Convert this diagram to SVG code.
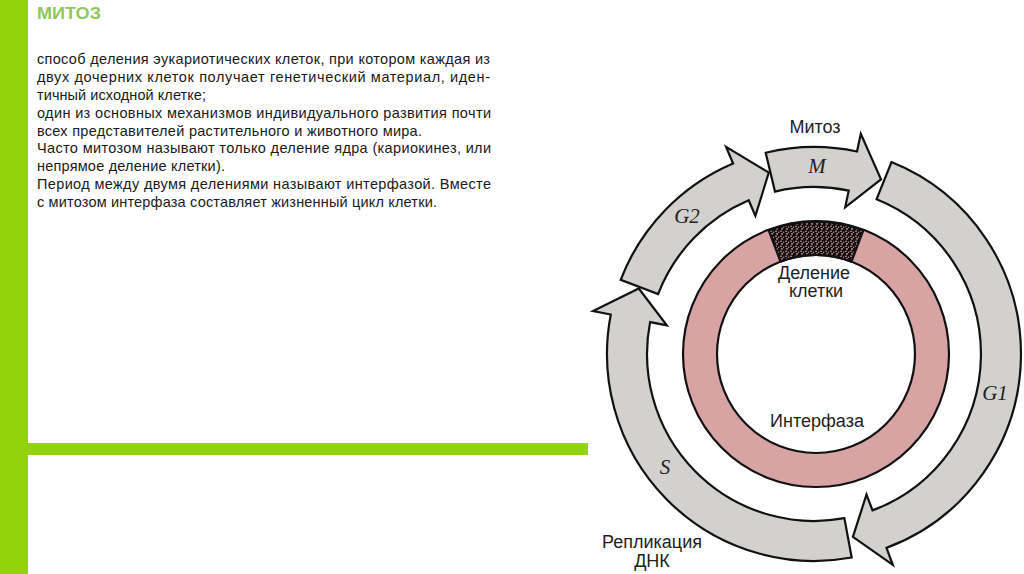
<svg xmlns="http://www.w3.org/2000/svg" width="1024" height="574" viewBox="0 0 1024 574">
<style>
.body{font-family:"Liberation Sans",Arial,sans-serif;font-size:14.5px;fill:#1a1a1a}
.lbl{font-family:"Liberation Sans",Arial,sans-serif;font-size:18px;fill:#1e1e1e;text-anchor:middle}
.ph{font-family:"Liberation Serif","Times New Roman",serif;font-style:italic;font-size:21px;fill:#222;text-anchor:middle}
.arrow{fill:#d3d1cd;stroke:#111;stroke-width:2.2;stroke-linejoin:miter}
.green{fill:#92d30a}
</style>
<defs>
<pattern id="speckle" width="5" height="5" patternUnits="userSpaceOnUse">
<rect width="5" height="5" fill="#140c0e"/>
<circle cx="1" cy="1.2" r="0.8" fill="#e2b4ba"/>
<circle cx="3.6" cy="2.2" r="0.7" fill="#c9949b"/>
<circle cx="2" cy="3.9" r="0.8" fill="#e8c0c4"/>
</pattern>
</defs>
<rect width="1024" height="574" fill="#ffffff"/>
<g id="frame">
<rect class="green" x="0" y="0" width="28" height="574"/>
<rect class="green" x="28" y="443" width="560" height="12"/>
</g>
<g id="title">
<text x="37" y="19" font-family="'Liberation Sans',Arial,sans-serif" font-weight="bold" font-size="17" fill="#8dc85a" textLength="64" lengthAdjust="spacingAndGlyphs">МИТОЗ</text>
</g>
<g id="description" class="body">
<text x="37" y="64.3" textLength="453">способ деления эукариотических клеток, при котором каждая из</text>
<text x="37" y="82.1" textLength="453">двух дочерних клеток получает генетический материал, иден-</text>
<text x="37" y="99.9" textLength="169">тичный исходной клетке;</text>
<text x="37" y="117.7" textLength="454">один из основных механизмов индивидуального развития почти</text>
<text x="37" y="135.5" textLength="385">всех представителей растительного и животного мира.</text>
<text x="37" y="153.3" textLength="454">Часто митозом называют только деление ядра (кариокинез, или</text>
<text x="37" y="171.1" textLength="188">непрямое деление клетки).</text>
<text x="37" y="188.9" textLength="454">Период между двумя делениями называют интерфазой. Вместе</text>
<text x="37" y="206.7" textLength="400">с митозом интерфаза составляет жизненный цикл клетки.</text>
</g>
<g id="interphase-ring">
<circle cx="816" cy="354" r="116" fill="none" stroke="#d8a3a3" stroke-width="34"/>
<circle cx="816" cy="354" r="133" fill="none" stroke="#111" stroke-width="2.2"/>
<circle cx="816" cy="354" r="99" fill="none" stroke="#111" stroke-width="2.2"/>
<text class="lbl" x="817" y="427" font-size="19">Интерфаза</text>
</g>
<g id="cell-division">
<path d="M768.7,230.3 A133,133 0 0 1 863.3,230.3 L851.5,261.6 A99,99 0 0 0 780.5,261.6 Z" fill="url(#speckle)" stroke="#111" stroke-width="2.2"/>
<text class="lbl" x="814" y="278.5" font-size="16.5">Деление</text>
<text class="lbl" x="816" y="297" font-size="16.5">клетки</text>
</g>
<g id="connectors">
<g id="phase-M">
<path class="arrow" d="M765.7,152.7 A207,207 0 0 1 857,151.5 L860.8,133.9 L881,179.4 L845.2,207.3 L848.7,190.7 A167,167 0 0 0 775,191.6 Z"/>
<text class="ph" x="817" y="173" font-size="20">M</text>
<text class="lbl" x="815" y="133">Митоз</text>
</g>
<g id="phase-G1">
<path class="arrow" d="M891.5,162.1 A207,207 0 0 1 886.5,547.9 L892.8,564.8 L852.9,536.9 L866.5,494.5 L872.5,510.4 A167,167 0 0 0 876.6,199.2 Z"/>
<text class="ph" x="995" y="400">G1</text>
</g>
<g id="phase-S">
<path class="arrow" d="M851.7,557.5 A207,207 0 0 1 610.8,314.5 L593.1,311.1 L638.8,288.5 L666.8,325.4 L650.1,322.1 A167,167 0 0 0 844.4,518.2 Z"/>
<text class="ph" x="665" y="474">S</text>
<text class="lbl" x="652" y="548">Репликация</text>
<text class="lbl" x="652" y="567">ДНК</text>
</g>
<g id="phase-G2">
<path class="arrow" d="M620.7,279.8 A207,207 0 0 1 733.1,163.5 L726.1,146.9 L768.8,172.6 L755.4,215.9 L748.7,200.3 A167,167 0 0 0 658.1,294.1 Z"/>
<text class="ph" x="687" y="223">G2</text>
</g>
</g>
</svg>
